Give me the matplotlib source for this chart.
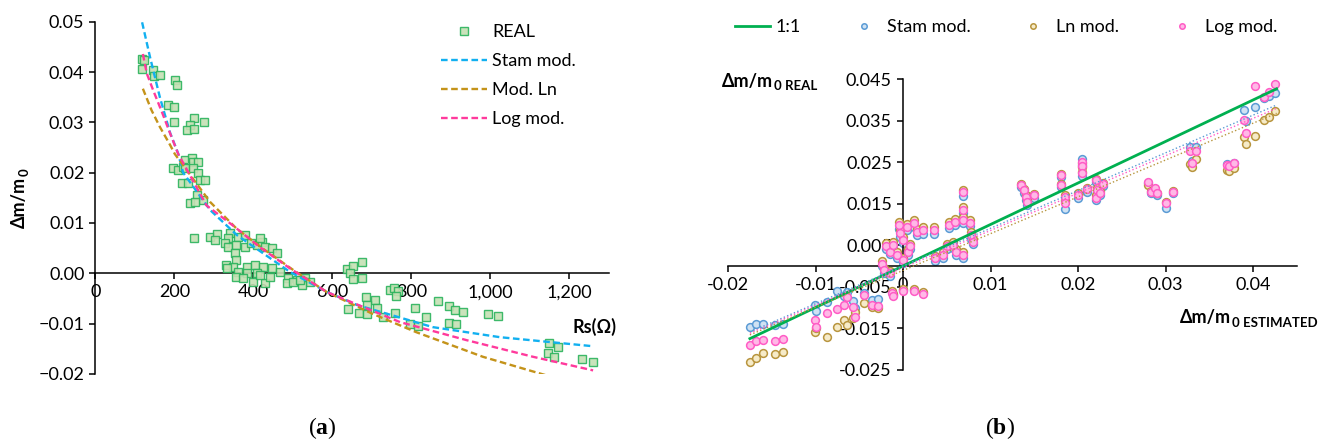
import numpy as np
import matplotlib
matplotlib.use('Agg')
import matplotlib.pyplot as plt

plt.rcParams['font.family'] = ['Lato', 'DejaVu Sans']
plt.rcParams['mathtext.fontset'] = 'custom'
plt.rcParams['mathtext.rm'] = 'Liberation Serif'
plt.rcParams['mathtext.bf'] = 'Liberation Serif:bold'

# ---- panel (a) data: Rs vs dm/m0 ----
rs_real = [117, 124, 119, 146, 148, 163, 201, 206, 184, 199, 199, 250, 239, 276, 232, 250,
           227, 244, 248, 260, 197, 210, 222, 227, 248, 260, 265, 277, 218, 235, 256, 273,
           239, 252, 249, 290, 307, 303, 340, 336, 362, 378, 328, 336, 357, 378, 395, 408,
           421, 416, 429, 446, 459, 353, 357, 330, 349, 332, 383, 404, 425, 446, 467, 362,
           383, 408, 357, 374, 399, 429, 416, 442, 488, 509, 530, 543, 484, 522, 501, 518,
           636, 651, 674, 644, 653, 674, 640, 684, 708, 687, 712, 668, 687, 729, 746, 756,
           767, 761, 758, 809, 796, 817, 838, 868, 896, 910, 930, 896, 914, 994, 1020,
           1149, 1170, 1146, 1162, 1232, 1260]
dm_real = [.0427, .0424, .0406, .0404, .0393, .0394, .0384, .0374, .0335, .0331, .0301, .0308,
           .0295, .0301, .0285, .0286, .0225, .0229, .0222, .0222, .0209, .0205, .0212, .0209,
           .0209, .0199, .0185, .0185, .0180, .0180, .0156, .0146, .0139, .0142, .0070, .0072,
           .0078, .0066, .0081, .0070, .0073, .0076, .0060, .0053, .0056, .0053, .0060, .0056,
           .0063, .0070, .0053, .0050, .0040, .0040, .0026, .0016, .0013, .0010, .0013, .0016,
           .0013, .0010, .0003, .0003, .0000, .0000, -.0007, -.0010, -.0017, -.0020, -.0003,
           -.0007, -.0010, -.0013, -.0010, -.0017, -.0020, -.0023, -.0017, -.0013,
           .0008, .0015, .0023, .0001, -.0012, -.0010, -.0070, -.0048, -.0054, -.0063, -.0068,
           -.0078, -.0080, -.0086, -.0033, -.0030, -.0035, -.0046, -.0078, -.0068, -.0101,
           -.0105, -.0086, -.0056, -.0065, -.0072, -.0076, -.0098, -.0101, -.0081, -.0085,
           -.0139, -.0147, -.0158, -.0167, -.0170, -.0176]

rs_stam = [118, 138, 163, 189, 209, 222, 290, 358, 424, 492, 586, 662, 854, 1024, 1260]
dm_stam = [.0499, .0430, .0350, .0279, .0239, .0200, .0126, .0076, .0040, .0003, -.0037,
           -.0063, -.0107, -.0127, -.0145]
rs_ln = [120, 142, 163, 189, 201, 290, 357, 424, 500, 585, 700, 812, 981, 1142]
dm_ln = [.0367, .0324, .0291, .0255, .0237, .0142, .0089, .0049, .0007, -.0037, -.0080,
         -.0117, -.0166, -.0203]
rs_log = [120, 130, 146, 168, 189, 209, 281, 348, 416, 492, 585, 771, 940, 1108, 1260]
dm_log = [.0436, .0397, .0364, .0321, .0278, .0238, .0135, .0095, .0052, .0010, -.0037,
          -.0097, -.0133, -.0166, -.0193]

rs_ticks = [0, 200, 400, 600, 800, 1000, 1200]
rs_labels = ['0', '200', '400', '600', '800', '1,000', '1,200']
dm_ticks_a = [0.05, 0.04, 0.03, 0.02, 0.01, 0.0, -0.01, -0.02]
dm_labels_a = ['0.05', '0.04', '0.03', '0.02', '0.01', '0.00', '\u22120.01', '\u22120.02']

# ---- panel (b) data: estimated vs real ----
est = [-0.0175, -0.0168, -0.0160, -0.0146, -0.0137,
       -0.0101, -0.0099, -0.0087, -0.0076, -0.0068, -0.0064, -0.0057, -0.0055, -0.0045,
       -0.0036, -0.0029,
       -0.0024, -0.0022, -0.0019, -0.0015, -0.0015, -0.0013, -0.0011, -0.0011, -0.0007,
       -0.0005, -0.0003, 0.0000, 0.0000, 0.0000, 0.0004, 0.0006, 0.0008, 0.0012, 0.0012,
       0.0016, 0.0023, 0.0023, 0.0035,
       0.0037, 0.0046, 0.0050, 0.0052, 0.0057, 0.0059, 0.0061, 0.0069, 0.0069, 0.0069,
       0.0069, 0.0076, 0.0078, 0.0080,
       0.0135, 0.0138, 0.0140, 0.0142, 0.0150,
       0.0180, 0.0181, 0.0185, 0.0185,
       0.0205, 0.0204, 0.0204, 0.0200, 0.0210, 0.0220, 0.0222, 0.0228, 0.0220, 0.0225,
       0.0280, 0.0283, 0.0288, 0.0290, 0.0300, 0.0308,
       0.0328, 0.0335, 0.0330,
       0.0370, 0.0373, 0.0378,
       0.0390, 0.0392, 0.0402, 0.0412, 0.0418, 0.0425]
stam = [-0.0148, -0.0140, -0.0140, -0.0141, -0.0140,
        -0.0094, -0.0108, -0.0086, -0.0060, -0.0072, -0.0062, -0.0085, -0.0100, -0.0064,
        -0.0082, -0.0080,
        0.0000, -0.0016, 0.0040, -0.0024, 0.0028, -0.0062, 0.0044, -0.0070, 0.0020,
        0.0090, 0.0070, 0.0056, 0.0008, -0.0058, 0.0086, 0.0026, 0.0040, 0.0094, -0.0058,
        0.0074, 0.0078, -0.0066, 0.0078,
        0.0012, 0.0020, 0.0040, 0.0092, 0.0044, 0.0100, 0.0027, 0.0104, 0.0128, 0.0168,
        0.0020, 0.0096, 0.0066, 0.0052,
        0.0190, 0.0176, 0.0160, 0.0148, 0.0165,
        0.0214, 0.0190, 0.0160, 0.0137,
        0.0258, 0.0244, 0.0218, 0.0165, 0.0178, 0.0202, 0.0178, 0.0192, 0.0160, 0.0170,
        0.0200, 0.0175, 0.0180, 0.0170, 0.0140, 0.0176,
        0.0286, 0.0287, 0.0252,
        0.0245, 0.0238, 0.0248,
        0.0376, 0.0350, 0.0384, 0.0405, 0.0410, 0.0418]
ln = [-0.0231, -0.0222, -0.0210, -0.0211, -0.0208,
      -0.0158, -0.0150, -0.0171, -0.0146, -0.0130, -0.0142, -0.0125, -0.0110, -0.0090,
      -0.0098, -0.0100,
      0.0012, -0.0004, 0.0056, -0.0012, 0.0040, -0.0060, 0.0058, -0.0068, 0.0034,
      0.0105, 0.0086, 0.0070, 0.0020, -0.0055, 0.0102, 0.0040, 0.0054, 0.0110, -0.0055,
      0.0090, 0.0094, -0.0062, 0.0094,
      0.0025, 0.0034, 0.0054, 0.0106, 0.0058, 0.0114, 0.0041, 0.0118, 0.0142, 0.0182,
      0.0034, 0.0110, 0.0082, 0.0066,
      0.0198, 0.0186, 0.0170, 0.0158, 0.0174,
      0.0222, 0.0198, 0.0170, 0.0156,
      0.0248, 0.0238, 0.0226, 0.0175, 0.0188, 0.0210, 0.0188, 0.0200, 0.0170, 0.0180,
      0.0196, 0.0180, 0.0184, 0.0175, 0.0155, 0.0180,
      0.0245, 0.0259, 0.0239,
      0.0231, 0.0228, 0.0236,
      0.0310, 0.0294, 0.0313, 0.0353, 0.0360, 0.0373]
logm = [-0.0190, -0.0180, -0.0178, -0.0180, -0.0176,
        -0.0130, -0.0146, -0.0114, -0.0104, -0.0094, -0.0075, -0.0098, -0.0122, -0.0070,
        -0.0094, -0.0096,
        0.0006, -0.0010, 0.0047, -0.0018, 0.0034, -0.0064, 0.0051, -0.0072, 0.0027,
        0.0099, 0.0079, 0.0063, 0.0014, -0.0060, 0.0095, 0.0034, 0.0047, 0.0103, -0.0060,
        0.0083, 0.0087, -0.0068, 0.0087,
        0.0019, 0.0027, 0.0047, 0.0099, 0.0051, 0.0107, 0.0034, 0.0111, 0.0135, 0.0179,
        0.0027, 0.0103, 0.0075, 0.0059,
        0.0195, 0.0183, 0.0167, 0.0155, 0.0171,
        0.0219, 0.0195, 0.0167, 0.0151,
        0.0251, 0.0242, 0.0223, 0.0172, 0.0185, 0.0207, 0.0183, 0.0197, 0.0165, 0.0175,
        0.0203, 0.0179, 0.0187, 0.0175, 0.0151, 0.0179,
        0.0277, 0.0278, 0.0247,
        0.0243, 0.0240, 0.0247,
        0.0352, 0.0320, 0.0434, 0.0408, 0.0420, 0.0439]

# trend line ends
trend_x = [-0.0175, 0.0427]
trend_stam = [-0.0159, 0.0388]
trend_ln = [-0.0166, 0.0368]
trend_log = [-0.0162, 0.0380]
one_to_one = [-0.0175, 0.0427]

bx_ticks = [-0.02, -0.01, 0.0, 0.01, 0.02, 0.03, 0.04]
bx_labels = ['-0.02', '-0.01', '0', '0.01', '0.02', '0.03', '0.04']
by_ticks = [0.045, 0.035, 0.025, 0.015, 0.005, -0.005, -0.015, -0.025]
by_labels = ['0.045', '0.035', '0.025', '0.015', '0.005', '-0.005', '-0.015', '-0.025']

W, H = 1330, 445
fig = plt.figure(figsize=(13.3, 4.45), dpi=100)

c_stam = '#12b0f0'
c_ln = '#c4931a'
c_log = '#ff3a9c'
dash = (0, (2.8, 1.5))

# ---------------- (a) ----------------
ax1 = fig.add_axes([95.5 / W, 1 - 373.9 / H, 513.4 / W, 352.1 / H])
ax1.plot(rs_real, dm_real, 's', ms=6, mfc='#c5e0b4', mec='#2bb35c', mew=1.0,
         alpha=0.9, label='REAL', zorder=3)
ax1.plot(rs_stam, dm_stam, color=c_stam, lw=1.7, ls=dash, label='Stam mod.', zorder=4)
ax1.plot(rs_ln, dm_ln, color=c_ln, lw=1.7, ls=dash, label='Mod. Ln', zorder=4)
ax1.plot(rs_log, dm_log, color=c_log, lw=1.7, ls=dash, label='Log mod.', zorder=4)
ax1.set_xlim(0, 1300)
ax1.set_ylim(-0.02, 0.05)
ax1.spines['top'].set_visible(False)
ax1.spines['right'].set_visible(False)
ax1.spines['bottom'].set_position(('data', 0))
for s in ('left', 'bottom'):
    ax1.spines[s].set_linewidth(1.1)
ax1.set_xticks(rs_ticks)
ax1.set_xticklabels(rs_labels)
ax1.set_yticks(dm_ticks_a)
ax1.set_yticklabels(dm_labels_a)
ax1.tick_params(length=4, width=1.1, labelsize=13, pad=4)
leg1 = ax1.legend(loc='upper left', bbox_to_anchor=(441 / W, 1 - 24 / H),
                  bbox_transform=fig.transFigure, frameon=False, fontsize=13,
                  handlelength=2.55, handletextpad=0.3, labelspacing=0.72,
                  borderpad=0, borderaxespad=0)

ta = fig.text(19 / W, 1 - 202 / H, '\u0394m/m', rotation=90, fontsize=13,
              fontweight='bold', ha='center', va='center')
ax1.annotate('0', xy=(1, 1), xycoords=ta, xytext=(2.5, 0), textcoords='offset points',
             rotation=90, fontsize=9.5, fontweight='bold', ha='right', va='bottom')
fig.text(595 / W, 1 - 327 / H, 'Rs(\u03a9)', fontsize=13, fontweight='bold',
         ha='center', va='center')

# ---------------- (b) ----------------
ax2 = fig.add_axes([728 / W, 1 - 369.75 / H, 568.75 / W, 290.5 / H])
ax2.plot(one_to_one, one_to_one, color='#00b050', lw=2, label='1:1', zorder=5)
ax2.plot(est, stam, 'o', ms=5.6, mfc='#cfe2f3', mec='#5b9bd5', mew=1.1,
         label='Stam mod.', zorder=2)
ax2.plot(est, ln, 'o', ms=5.6, mfc='#f6ebc8', mec='#b8953e', mew=1.1,
         label='Ln mod.', zorder=3)
ax2.plot(est, logm, 'o', ms=5.6, mfc='#ffb8e6', mec='#ff5cc6', mew=1.1,
         label='Log mod.', zorder=4)
ax2.plot(trend_x, trend_stam, color='#5b9bd5', lw=1, ls=':', zorder=5)
ax2.plot(trend_x, trend_ln, color='#b8953e', lw=1, ls=':', zorder=5)
ax2.plot(trend_x, trend_log, color='#ff5cc6', lw=1, ls=':', zorder=5)
ax2.set_xlim(-0.02, 0.045)
ax2.set_ylim(-0.025, 0.045)
ax2.spines['top'].set_visible(False)
ax2.spines['right'].set_visible(False)
ax2.spines['left'].set_position(('data', 0))
ax2.spines['bottom'].set_position(('data', 0))
for s in ('left', 'bottom'):
    ax2.spines[s].set_linewidth(1.1)
ax2.set_xticks(bx_ticks)
ax2.set_xticklabels(bx_labels)
ax2.set_yticks(by_ticks)
ax2.set_yticklabels(by_labels)
ax2.tick_params(length=4, width=1.1, labelsize=13, pad=4)
leg2 = ax2.legend(loc='upper left', bbox_to_anchor=(735 / W, 1 - 19 / H),
                  bbox_transform=fig.transFigure, frameon=False, fontsize=13, ncol=4,
                  handlelength=1.95, handletextpad=0.3, columnspacing=2.5,
                  markerscale=0.7, borderpad=0, borderaxespad=0)

tb = fig.text(722 / W, 1 - 81 / H, '\u0394m/m', fontsize=13, fontweight='bold',
              ha='left', va='center')
ax2.annotate('0 REAL', xy=(1, 0), xycoords=tb, xytext=(0.5, -1.5),
             textcoords='offset points',
             fontsize=9.5, fontweight='bold', ha='left', va='bottom')
tx = fig.text(1180 / W, 1 - 318 / H, '\u0394m/m', fontsize=13, fontweight='bold',
              ha='left', va='center')
ax2.annotate('0 ESTIMATED', xy=(1, 0), xycoords=tx, xytext=(0.5, -1.5),
             textcoords='offset points', fontsize=9.5, fontweight='bold',
             ha='left', va='bottom')

# captions
fig.text(322 / W, 1 - 428 / H, r'$(\mathbf{a})$', fontsize=17, ha='center', va='center')
fig.text(1000 / W, 1 - 428 / H, r'$(\mathbf{b})$', fontsize=17, ha='center', va='center')

fig.savefig('out.png', dpi=100)
